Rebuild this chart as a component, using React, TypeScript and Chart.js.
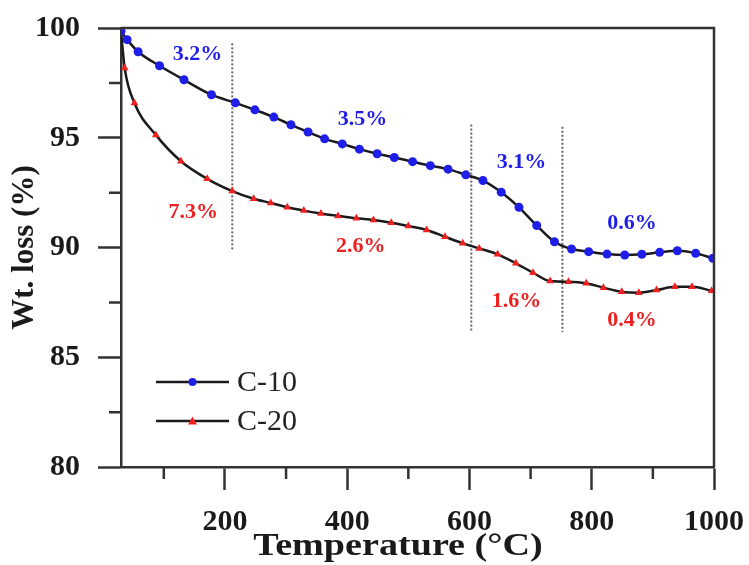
import React, { useEffect, useRef } from "react";
import { Chart, registerables } from "chart.js";

Chart.register(...registerables);

// ---- data ----
const seriesNames = ["C-10", "C-20"];

const tempC10 = [30, 40, 58, 93, 133, 178, 217, 249, 280, 308, 336, 363, 392, 420, 449, 477, 507, 536, 565, 594, 622, 652, 681, 710, 739, 767, 795, 825, 854, 882, 911, 940, 970, 998];
const wtC10 = [99.85, 99.47, 98.92, 98.28, 97.64, 96.96, 96.59, 96.27, 95.94, 95.59, 95.26, 94.95, 94.72, 94.48, 94.27, 94.1, 93.91, 93.73, 93.57, 93.31, 93.05, 92.52, 91.83, 91.0, 90.26, 89.93, 89.81, 89.7, 89.66, 89.69, 89.78, 89.85, 89.74, 89.51];

const tempC20 = [30, 36, 52, 87, 128, 171, 212, 247, 275, 302, 329, 357, 385, 415, 443, 472, 500, 530, 560, 589, 616, 646, 676, 704, 732, 762, 791, 819, 849, 877, 906, 936, 964, 996];
const wtC20 = [99.85, 98.18, 96.58, 95.13, 93.93, 93.13, 92.57, 92.22, 92.03, 91.83, 91.68, 91.55, 91.44, 91.33, 91.25, 91.13, 90.98, 90.8, 90.49, 90.19, 89.96, 89.69, 89.28, 88.85, 88.47, 88.44, 88.37, 88.17, 87.98, 87.94, 88.06, 88.21, 88.21, 88.03];

// dotted stage separators
const stageTemps = [212, 603, 752];
const stageTop = [99.3, 95.6, 95.5];
const stageBottom = [89.9, 86.15, 86.15];

// stage weight-loss annotations
const noteTexts = ["3.2%", "3.5%", "3.1%", "0.6%", "7.3%", "2.6%", "1.6%", "0.4%"];
const noteTemps = [155, 425, 685, 866, 148, 422, 677, 866];
const noteWts = [98.8, 95.85, 93.9, 91.1, 91.62, 90.05, 87.55, 86.69];
const noteSeries = [0, 0, 0, 0, 1, 1, 1, 1];

const xTicks = [100, 200, 300, 400, 500, 600, 700, 800, 900, 1000];
const yTicks = [80, 82.5, 85, 87.5, 90, 92.5, 95, 97.5, 100];

const xTitle = "Temperature (°C)";
const yTitle = "Wt. loss (%)";

// ---- styles ----
const SERIF = "'Liberation Serif', 'Times New Roman', serif";
const AXIS = "#333333";
const LINE = "#1a1a1a";
const BLUE = "#1e1ee8";
const RED = "#ee2020";
const seriesColors = [BLUE, RED];
const seriesMarkers = ["circle", "triangle"];
const seriesRadius = [4.5, 4.5];

const isMajorY = (v: number) => Math.abs(v % 5) < 1e-6;
const isMajorX = (v: number) => Math.abs(v % 200) < 1e-6;

export default function App() {
  const ref = useRef<HTMLCanvasElement | null>(null);

  useEffect(() => {
    const canvas = ref.current;
    if (!canvas) return;

    const decorPlugin = {
      id: "decor",
      afterDatasetsDraw(chart: any) {
        const { ctx, chartArea } = chart;
        const xs = chart.scales.x;
        const ys = chart.scales.y;
        ctx.save();
        // top and right frame
        ctx.strokeStyle = AXIS;
        ctx.lineWidth = 2.5;
        ctx.beginPath();
        ctx.moveTo(chartArea.left, chartArea.top);
        ctx.lineTo(chartArea.right, chartArea.top);
        ctx.lineTo(chartArea.right, chartArea.bottom);
        ctx.stroke();
        // minor ticks
        ctx.beginPath();
        yTicks.filter((v) => !isMajorY(v)).forEach((v) => {
          const py = ys.getPixelForValue(v);
          ctx.moveTo(chartArea.left - 12, py);
          ctx.lineTo(chartArea.left, py);
        });
        xTicks.filter((v) => !isMajorX(v)).forEach((v) => {
          const px = xs.getPixelForValue(v);
          ctx.moveTo(px, chartArea.bottom);
          ctx.lineTo(px, chartArea.bottom + 12);
        });
        ctx.stroke();

        // annotations
        ctx.font = `bold 22px ${SERIF}`;
        ctx.textAlign = "center";
        ctx.textBaseline = "middle";
        noteTexts.forEach((t, i) => {
          ctx.fillStyle = seriesColors[noteSeries[i]];
          ctx.fillText(t, xs.getPixelForValue(noteTemps[i]), ys.getPixelForValue(noteWts[i]));
        });

        // legend
        const lx0 = 156, lx1 = 229, ly0 = 382, gap = 39;
        seriesNames.forEach((name, i) => {
          const y = ly0 + i * gap;
          ctx.strokeStyle = LINE;
          ctx.lineWidth = 2.5;
          ctx.beginPath();
          ctx.moveTo(lx0, y);
          ctx.lineTo(lx1, y);
          ctx.stroke();
          ctx.fillStyle = seriesColors[i];
          const cx = (lx0 + lx1) / 2;
          ctx.beginPath();
          if (seriesMarkers[i] === "circle") {
            ctx.arc(cx, y, 4, 0, Math.PI * 2);
          } else {
            ctx.moveTo(cx, y - 4.5);
            ctx.lineTo(cx + 4.5, y + 3.5);
            ctx.lineTo(cx - 4.5, y + 3.5);
            ctx.closePath();
          }
          ctx.fill();
          ctx.fillStyle = "#222";
          ctx.font = `30px ${SERIF}`;
          ctx.textAlign = "left";
          ctx.textBaseline = "middle";
          ctx.fillText(name, 237, y + 1);
        });

        // x title (slightly wide, as in the reference)
        ctx.fillStyle = "#1a1a1a";
        ctx.font = `bold 31px ${SERIF}`;
        ctx.textAlign = "center";
        ctx.textBaseline = "middle";
        ctx.translate(398, 547);
        ctx.scale(1.23, 1);
        ctx.fillText(xTitle, 0, 0);
        ctx.restore();
      },
    };

    const curve = (i: number, xsArr: number[], ysArr: number[]) => ({
      label: seriesNames[i],
      data: xsArr.map((x, k) => ({ x, y: ysArr[k] })),
      borderColor: LINE,
      borderWidth: 2.5,
      pointStyle: seriesMarkers[i],
      pointRadius: seriesRadius[i],
      pointBorderWidth: 0,
      pointBackgroundColor: seriesColors[i],
      pointBorderColor: seriesColors[i],
      cubicInterpolationMode: "monotone",
      fill: false,
    });

    const stageSets = stageTemps.map((t, i) => ({
      label: "stage" + i,
      data: [
        { x: t, y: stageTop[i] },
        { x: t, y: stageBottom[i] },
      ],
      borderColor: "#666666",
      borderWidth: 2,
      borderDash: [2, 2],
      pointRadius: 0,
      fill: false,
    }));

    const chart = new Chart(canvas, {
      type: "line",
      data: {
        datasets: [curve(0, tempC10, wtC10), curve(1, tempC20, wtC20), ...stageSets] as any,
      },
      options: {
        animation: false,
        responsive: true,
        maintainAspectRatio: false,
        layout: { autoPadding: false, padding: { top: 28, right: 35, left: 0, bottom: 0 } },
        plugins: {
          legend: { display: false },
          tooltip: { enabled: false },
        },
        scales: {
          x: {
            type: "linear",
            min: 30,
            max: 1000,
            afterBuildTicks: (s: any) => {
              s.ticks = xTicks.map((v) => ({ value: v }));
            },
            afterFit: (s: any) => {
              s.height = 98;
              s.paddingLeft = 0;
              s.paddingRight = 0;
              s.paddingTop = 0;
              s.paddingBottom = 0;
            },
            border: { display: true, color: AXIS, width: 2.5 },
            grid: {
              drawOnChartArea: false,
              drawTicks: true,
              tickLength: 23,
              tickWidth: 2.5,
              tickColor: (c: any) => (isMajorX(c.tick?.value ?? 0) ? AXIS : "rgba(0,0,0,0)"),
            },
            ticks: {
              padding: 14,
              color: "#1a1a1a",
              maxRotation: 0,
              autoSkip: false,
              font: { family: SERIF, size: 30, weight: "bold" },
              callback: (v: any) => (isMajorX(Number(v)) ? String(v) : ""),
            },
          },
          y: {
            type: "linear",
            min: 80,
            max: 100,
            afterBuildTicks: (s: any) => {
              s.ticks = yTicks.map((v) => ({ value: v }));
            },
            afterFit: (s: any) => {
              s.width = 121;
              s.paddingLeft = 0;
              s.paddingRight = 0;
              s.paddingTop = 0;
              s.paddingBottom = 0;
            },
            border: { display: true, color: AXIS, width: 2.5 },
            grid: {
              drawOnChartArea: false,
              drawTicks: true,
              tickLength: 23,
              tickWidth: 2.5,
              tickColor: (c: any) => (isMajorY(c.tick?.value ?? 0) ? AXIS : "rgba(0,0,0,0)"),
            },
            ticks: {
              padding: 18,
              color: "#1a1a1a",
              autoSkip: false,
              font: { family: SERIF, size: 30, weight: "bold" },
              callback: (v: any) => (isMajorY(Number(v)) ? String(v) : ""),
            },
            title: {
              display: true,
              text: yTitle,
              color: "#1a1a1a",
              font: { family: SERIF, size: 31, weight: "bold" },
              padding: { top: 6, bottom: 0 },
            },
          },
        },
      },
      plugins: [decorPlugin],
    } as any);

    return () => chart.destroy();
  }, []);

  return (
    <div style={{ position: "fixed", left: 0, top: 0, width: 749, height: 565, background: "#fff" }}>
      <canvas ref={ref} />
    </div>
  );
}
